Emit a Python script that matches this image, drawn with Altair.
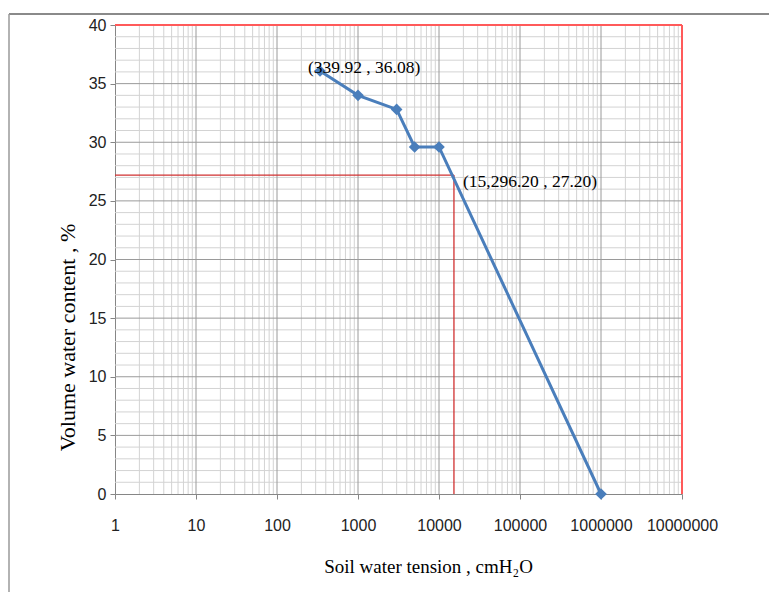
import altair as alt
import pandas as pd

# Soil water retention measurements
tension = [339.92, 1000, 3000, 5000, 10000, 1000000]   # cmH2O
water = [36.08, 34.0, 32.8, 29.6, 29.6, 0.0]            # volume %

# Field-capacity reference point
fc_tension = 15296.20
fc_water = 27.20

point_labels = ["(339.92 , 36.08)", "(15,296.20 , 27.20)"]
label_x = [339.92, 15296.20]
label_y = [36.08, 27.20]

x_decades = [1, 10, 100, 1000, 10000, 100000, 1000000, 10000000]
x_minor = [m * d for d in x_decades[:-1] for m in range(2, 10)]
y_major = list(range(0, 41, 5))
y_minor = [v for v in range(0, 41) if v % 5]

TICK_FONT = "Liberation Sans, Arial, sans-serif"
SERIF = "Liberation Serif, Times New Roman, serif"

xs = alt.Scale(type="log", domain=[1, 10000000], nice=False)
ys = alt.Scale(domain=[0, 40], nice=False)

x_axis = alt.Axis(
    values=x_decades, format="d", grid=False,
    domainColor="#868686", tickColor="#868686", tickSize=5,
    labelFont=TICK_FONT, labelFontSize=16, labelColor="#222222", labelPadding=18,
    labelFlush=False, labelOverlap=False,
    title="Soil water tension , cmH\u2082O", titleFont=SERIF, titleFontSize=19,
    titleFontWeight="normal", titleColor="#000000",
    titleX=313, titleY=72, titleBaseline="middle", titleAlign="center",
)
y_axis = alt.Axis(
    values=y_major, grid=False,
    domainColor="#868686", tickColor="#868686", tickSize=5,
    labelFont=TICK_FONT, labelFontSize=16, labelColor="#222222", labelPadding=4,
    title="Volume water content , %", titleFont=SERIF, titleFontSize=22,
    titleFontWeight="normal", titleColor="#000000",
    titleX=-48, titleY=312, titleBaseline="middle", titleAlign="center", titleAngle=270,
)

X = lambda f: alt.X(f, type="quantitative", scale=xs, axis=x_axis)
Y = lambda f: alt.Y(f, type="quantitative", scale=ys, axis=y_axis)

grid_x_minor = alt.Chart(pd.DataFrame({"v": x_minor})).mark_rule(
    color="#d3d3d3", strokeWidth=1).encode(x=X("v"))
grid_y_minor = alt.Chart(pd.DataFrame({"v": y_minor})).mark_rule(
    color="#d3d3d3", strokeWidth=1).encode(y=Y("v"))
grid_x_major = alt.Chart(pd.DataFrame({"v": x_decades[1:-1]})).mark_rule(
    color="#9a9a9a", strokeWidth=1).encode(x=X("v"))
grid_y_major = alt.Chart(pd.DataFrame({"v": y_major[1:-1]})).mark_rule(
    color="#9a9a9a", strokeWidth=1).encode(y=Y("v"))

# red frame on the top and right of the plot
frame_top = alt.Chart(pd.DataFrame({"v": [40]})).mark_rule(
    color="#ff5a5a", strokeWidth=2).encode(y=Y("v"))
frame_right = alt.Chart(pd.DataFrame({"v": [10000000]})).mark_rule(
    color="#ff5a5a", strokeWidth=2).encode(x=X("v"))

ref_df = pd.DataFrame({"x0": [1], "x1": [fc_tension], "y0": [0], "y1": [fc_water]})
ref_h = alt.Chart(ref_df).mark_rule(color="#d03030", strokeWidth=1.3).encode(
    x=X("x0"), x2="x1", y=Y("y1"))
ref_v = alt.Chart(ref_df).mark_rule(color="#d03030", strokeWidth=1.3).encode(
    x=X("x1"), y=Y("y0"), y2="y1")

data = pd.DataFrame({"tension": tension, "water": water})
curve = alt.Chart(data).mark_line(color="#4a7ebb", strokeWidth=3).encode(
    x=X("tension"), y=Y("water"))
points = alt.Chart(data).mark_point(
    shape="diamond", filled=True, color="#4a7ebb", size=135, opacity=1).encode(
    x=X("tension"), y=Y("water"))

lab_df = pd.DataFrame({"x": label_x, "y": label_y, "t": point_labels})
lab1 = alt.Chart(lab_df.iloc[[0]]).mark_text(
    font=SERIF, fontSize=17.5, color="#000000", align="left", baseline="middle",
    dx=-12, dy=-3).encode(x=X("x"), y=Y("y"), text="t:N")
lab2 = alt.Chart(lab_df.iloc[[1]]).mark_text(
    font=SERIF, fontSize=17.5, color="#000000", align="left", baseline="middle",
    dx=9, dy=7).encode(x=X("x"), y=Y("y"), text="t:N")

# outer chart-area border (top and left edges)
border_top = alt.Chart(pd.DataFrame({"a": [0]})).mark_rule(
    color="#8a8a8a", strokeWidth=2).encode(
    x=alt.value(-106), x2=alt.value(660), y=alt.value(-11))
border_left = alt.Chart(pd.DataFrame({"a": [0]})).mark_rule(
    color="#9a9a9a", strokeWidth=1.5).encode(
    x=alt.value(-106), y=alt.value(-11), y2=alt.value(570))

chart = alt.layer(
    grid_x_minor, grid_y_minor, grid_x_major, grid_y_major,
    frame_top, frame_right, ref_h, ref_v, curve, points, lab1, lab2,
    border_top, border_left,
).properties(
    width=567, height=469,
    autosize=alt.AutoSizeParams(type="none"),
    padding={"left": 115, "top": 25, "right": 87, "bottom": 98},
    background="#ffffff",
).configure_view(stroke=None)

chart.save("out.html", embed_options={"renderer": "svg", "actions": False})
